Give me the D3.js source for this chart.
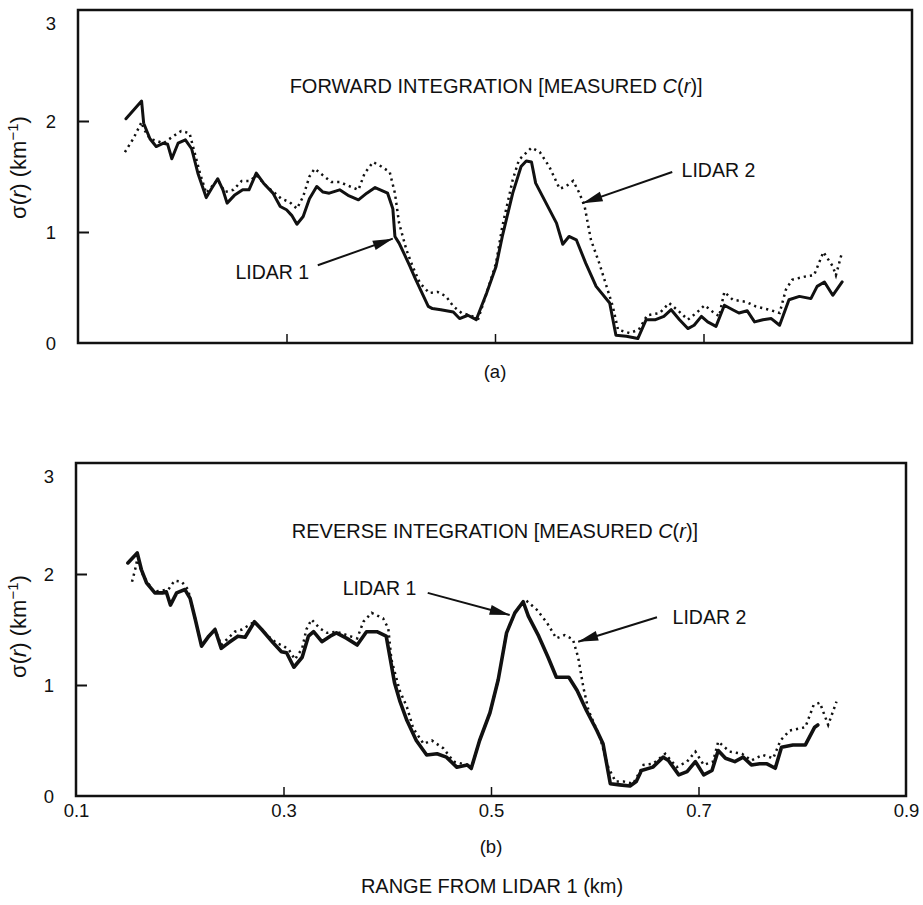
<!DOCTYPE html>
<html>
<head>
<meta charset="utf-8">
<script src="https://cdn.jsdelivr.net/npm/d3@7"></script>
<style>
  html, body { margin: 0; padding: 0; background: #fff; }
  svg { display: block; }
  text { font-family: "Liberation Sans", Arial, Helvetica, sans-serif; fill: #111; }
</style>
</head>
<body>
<svg id="chart" width="923" height="905"></svg>
<script>
// Extinction coefficient sigma(r) [km^-1] versus range r [km], pairs of [r, sigma]

// (a) forward integration
const forwardLidar1 = [[0.146,2.02],[0.161,2.18],[0.163,1.98],[0.169,1.84],[0.175,1.77],[0.182,1.80],[0.186,1.79],[0.190,1.66],[0.196,1.80],[0.203,1.83],[0.209,1.75],[0.215,1.53],[0.223,1.31],[0.228,1.39],[0.234,1.48],[0.239,1.38],[0.243,1.26],[0.250,1.33],[0.258,1.38],[0.264,1.38],[0.271,1.53],[0.278,1.44],[0.287,1.35],[0.294,1.23],[0.300,1.20],[0.305,1.15],[0.310,1.07],[0.316,1.14],[0.322,1.30],[0.329,1.41],[0.335,1.36],[0.341,1.35],[0.351,1.38],[0.359,1.33],[0.369,1.29],[0.377,1.35],[0.385,1.40],[0.397,1.35],[0.402,1.21],[0.404,0.96],[0.408,0.90],[0.413,0.80],[0.418,0.70],[0.424,0.57],[0.436,0.33],[0.440,0.31],[0.448,0.30],[0.460,0.28],[0.466,0.22],[0.474,0.25],[0.482,0.21],[0.492,0.45],[0.501,0.69],[0.507,0.96],[0.517,1.35],[0.525,1.59],[0.530,1.64],[0.535,1.63],[0.539,1.44],[0.549,1.26],[0.559,1.08],[0.565,0.89],[0.571,0.96],[0.578,0.93],[0.587,0.72],[0.597,0.51],[0.610,0.36],[0.616,0.07],[0.626,0.06],[0.637,0.04],[0.645,0.21],[0.654,0.21],[0.662,0.24],[0.669,0.30],[0.677,0.21],[0.685,0.13],[0.691,0.16],[0.698,0.24],[0.704,0.19],[0.712,0.15],[0.720,0.34],[0.728,0.30],[0.734,0.27],[0.742,0.29],[0.749,0.19],[0.757,0.21],[0.765,0.22],[0.773,0.16],[0.782,0.39],[0.792,0.42],[0.803,0.40],[0.809,0.51],[0.816,0.55],[0.824,0.43],[0.833,0.55]];

const forwardLidar2 = [[0.145,1.72],[0.153,1.84],[0.161,1.99],[0.163,1.93],[0.169,1.84],[0.182,1.80],[0.191,1.86],[0.199,1.91],[0.207,1.89],[0.212,1.71],[0.217,1.53],[0.223,1.35],[0.234,1.47],[0.241,1.36],[0.249,1.38],[0.257,1.46],[0.265,1.46],[0.271,1.51],[0.281,1.41],[0.289,1.35],[0.295,1.30],[0.303,1.27],[0.310,1.21],[0.316,1.32],[0.322,1.50],[0.327,1.57],[0.335,1.51],[0.343,1.45],[0.351,1.45],[0.361,1.41],[0.369,1.38],[0.375,1.53],[0.383,1.63],[0.391,1.59],[0.399,1.54],[0.404,1.35],[0.408,1.08],[0.415,0.84],[0.421,0.69],[0.428,0.54],[0.437,0.45],[0.445,0.46],[0.453,0.42],[0.460,0.33],[0.468,0.27],[0.476,0.25],[0.484,0.22],[0.492,0.45],[0.501,0.72],[0.507,1.05],[0.517,1.47],[0.523,1.65],[0.535,1.76],[0.543,1.72],[0.552,1.59],[0.562,1.39],[0.568,1.41],[0.575,1.46],[0.581,1.35],[0.586,1.23],[0.592,0.93],[0.600,0.72],[0.607,0.51],[0.613,0.33],[0.618,0.12],[0.629,0.09],[0.638,0.12],[0.646,0.25],[0.658,0.27],[0.667,0.36],[0.677,0.28],[0.685,0.21],[0.693,0.27],[0.701,0.34],[0.709,0.28],[0.715,0.24],[0.720,0.46],[0.728,0.39],[0.741,0.37],[0.750,0.33],[0.763,0.30],[0.773,0.27],[0.779,0.48],[0.785,0.57],[0.798,0.60],[0.806,0.61],[0.815,0.82],[0.824,0.69],[0.827,0.61],[0.833,0.82]];

// (b) reverse integration
const reverseLidar1 = [[0.150,2.10],[0.159,2.19],[0.163,2.04],[0.168,1.92],[0.176,1.83],[0.184,1.83],[0.187,1.84],[0.191,1.72],[0.197,1.83],[0.205,1.86],[0.210,1.78],[0.215,1.59],[0.221,1.35],[0.228,1.44],[0.234,1.50],[0.240,1.33],[0.247,1.38],[0.256,1.44],[0.263,1.43],[0.272,1.57],[0.279,1.50],[0.290,1.38],[0.298,1.30],[0.303,1.29],[0.310,1.16],[0.318,1.25],[0.324,1.44],[0.329,1.48],[0.337,1.39],[0.345,1.44],[0.351,1.47],[0.361,1.42],[0.371,1.36],[0.380,1.48],[0.390,1.48],[0.399,1.44],[0.403,1.23],[0.407,1.02],[0.412,0.86],[0.419,0.68],[0.428,0.50],[0.438,0.37],[0.448,0.38],[0.457,0.35],[0.467,0.26],[0.477,0.28],[0.481,0.25],[0.489,0.50],[0.499,0.75],[0.507,1.05],[0.515,1.47],[0.523,1.65],[0.531,1.75],[0.536,1.62],[0.546,1.44],[0.555,1.25],[0.563,1.07],[0.575,1.07],[0.583,0.95],[0.592,0.77],[0.602,0.59],[0.608,0.47],[0.615,0.11],[0.624,0.10],[0.634,0.09],[0.640,0.13],[0.645,0.23],[0.656,0.26],[0.666,0.35],[0.671,0.32],[0.681,0.19],[0.689,0.22],[0.697,0.31],[0.705,0.19],[0.713,0.23],[0.719,0.41],[0.726,0.34],[0.735,0.31],[0.743,0.35],[0.751,0.28],[0.759,0.29],[0.766,0.29],[0.774,0.25],[0.780,0.44],[0.791,0.46],[0.803,0.46],[0.812,0.62],[0.815,0.64]];

const reverseLidar2 = [[0.154,1.93],[0.157,2.04],[0.159,2.13],[0.165,1.98],[0.175,1.84],[0.189,1.86],[0.195,1.94],[0.202,1.93],[0.208,1.86],[0.215,1.59],[0.221,1.35],[0.228,1.44],[0.234,1.50],[0.240,1.36],[0.253,1.48],[0.260,1.50],[0.272,1.57],[0.284,1.45],[0.293,1.38],[0.300,1.35],[0.305,1.32],[0.311,1.23],[0.318,1.33],[0.322,1.50],[0.327,1.59],[0.335,1.51],[0.342,1.47],[0.351,1.48],[0.364,1.44],[0.371,1.42],[0.377,1.57],[0.385,1.65],[0.396,1.60],[0.401,1.51],[0.404,1.23],[0.412,0.95],[0.419,0.80],[0.425,0.61],[0.435,0.47],[0.443,0.50],[0.454,0.43],[0.464,0.31],[0.477,0.28],[0.481,0.25],[0.489,0.50],[0.499,0.75],[0.507,1.05],[0.515,1.47],[0.523,1.65],[0.531,1.75],[0.534,1.76],[0.544,1.68],[0.554,1.56],[0.563,1.42],[0.571,1.45],[0.579,1.41],[0.584,1.25],[0.589,0.98],[0.594,0.77],[0.605,0.53],[0.613,0.26],[0.620,0.13],[0.628,0.13],[0.637,0.11],[0.647,0.28],[0.656,0.29],[0.668,0.38],[0.679,0.26],[0.689,0.31],[0.697,0.40],[0.705,0.28],[0.714,0.31],[0.719,0.49],[0.730,0.40],[0.742,0.38],[0.751,0.32],[0.762,0.37],[0.772,0.34],[0.779,0.50],[0.788,0.59],[0.803,0.62],[0.811,0.82],[0.817,0.84],[0.825,0.64],[0.833,0.85]];

// Axis ticks and labels
const rangeTicks = [0.1, 0.3, 0.5, 0.7, 0.9];
const rangeTickLabels = ["0.1", "0.3", "0.5", "0.7", "0.9"];
const sigmaTicks = [0, 1, 2, 3];
const sigmaTickLabels = ["0", "1", "2", "3"];

// Panel texts
const panelTitles = ["FORWARD INTEGRATION", "REVERSE INTEGRATION"];
const panelCaptions = ["(a)", "(b)"];
const seriesNames = ["LIDAR 1", "LIDAR 2"];

const svg = d3.select("#chart");
svg.append("rect").attr("width", 923).attr("height", 905).attr("fill", "#fff");

// Layout of the two stacked panels (pixel frames) and the callouts in data units
const panels = [
  {
    lidar1: forwardLidar1, lidar2: forwardLidar2,
    left: 78, right: 912, top: 10, bottom: 343,
    title: panelTitles[0], titleAt: [0.303, 2.30],
    caption: panelCaptions[0], captionDy: 30,
    showRangeLabels: false, solidWidth: 3,
    label1: { text: [0.251, 0.62], from: [0.330, 0.70], to: [0.402, 0.94] },
    label2: { text: [0.679, 1.54], from: [0.670, 1.54], to: [0.584, 1.26] },
    yLabelDy: -9
  },
  {
    lidar1: reverseLidar1, lidar2: reverseLidar2,
    left: 76, right: 906, top: 463, bottom: 796,
    title: panelTitles[1], titleAt: [0.308, 2.37],
    caption: panelCaptions[1], captionDy: 52,
    showRangeLabels: true, solidWidth: 3.6,
    label1: { text: [0.357, 1.86], from: [0.439, 1.83], to: [0.518, 1.63] },
    label2: { text: [0.675, 1.60], from: [0.660, 1.61], to: [0.584, 1.39] },
    yLabelDy: -3
  }
];

function arrow(g, x1, y1, x2, y2) {
  g.append("line")
    .attr("x1", x1).attr("y1", y1).attr("x2", x2).attr("y2", y2)
    .attr("stroke", "#111").attr("stroke-width", 2);
  const ang = Math.atan2(y2 - y1, x2 - x1);
  const len = 20, half = 5;
  const bx = x2 - len * Math.cos(ang), by = y2 - len * Math.sin(ang);
  const px = -Math.sin(ang) * half, py = Math.cos(ang) * half;
  g.append("path")
    .attr("d", `M${x2},${y2}L${bx + px},${by + py}L${bx - px},${by - py}Z`)
    .attr("fill", "#111");
}

panels.forEach(p => {
  const x = d3.scaleLinear().domain([0.1, 0.9]).range([p.left, p.right]);
  const y = d3.scaleLinear().domain([0, 3]).range([p.bottom, p.top]);
  const g = svg.append("g");

  // plot frame
  g.append("rect")
    .attr("x", p.left).attr("y", p.top)
    .attr("width", p.right - p.left).attr("height", p.bottom - p.top)
    .attr("fill", "none").attr("stroke", "#111").attr("stroke-width", 2.5);

  // range axis: inward ticks, labels only under the lower panel
  const xAxis = d3.axisBottom(x).tickValues(rangeTicks)
    .tickSizeInner(-9).tickSizeOuter(0)
    .tickFormat((d, i) => p.showRangeLabels ? rangeTickLabels[i] : "");
  const xg = g.append("g").attr("transform", `translate(0,${p.bottom})`).call(xAxis);
  xg.select(".domain").remove();
  xg.selectAll(".tick line").attr("stroke", "#111").attr("stroke-width", 1.5)
    .filter(d => d === 0.1 || d === 0.9).remove();
  xg.selectAll(".tick text").attr("font-size", 18.5).attr("fill", "#111")
    .attr("font-family", "Liberation Sans, Arial, sans-serif").attr("dy", "0.9em")
    .attr("y", 4);

  // sigma axis: inward ticks, labels on the left
  const yAxis = d3.axisLeft(y).tickValues(sigmaTicks)
    .tickSizeInner(-11).tickSizeOuter(0)
    .tickPadding(22)
    .tickFormat((d, i) => sigmaTickLabels[i]);
  const yg = g.append("g").attr("transform", `translate(${p.left},0)`).call(yAxis);
  yg.select(".domain").remove();
  yg.selectAll(".tick line").attr("stroke", "#111").attr("stroke-width", 2)
    .filter(d => d === 0 || d === 3).remove();
  yg.selectAll(".tick text").attr("font-size", 18.5).attr("fill", "#111")
    .attr("font-family", "Liberation Sans, Arial, sans-serif")
    .attr("dy", d => d === 3 ? "1.05em" : "0.35em");

  // axis title sigma(r) (km^-1)
  const yl = g.append("text")
    .attr("transform", `translate(26,${(p.top + p.bottom) / 2 + p.yLabelDy}) rotate(-90)`)
    .attr("text-anchor", "middle").attr("font-size", 22);
  yl.append("tspan").text("σ(");
  yl.append("tspan").attr("font-style", "italic").text("r");
  yl.append("tspan").text(") (km");
  yl.append("tspan").attr("font-size", 15).attr("dy", -8).text("−1");
  yl.append("tspan").attr("dy", 8).text(")");

  // curves
  const line = d3.line().x(d => x(d[0])).y(d => y(d[1])).curve(d3.curveLinear);
  g.append("path").datum(p.lidar2).attr("d", line)
    .attr("fill", "none").attr("stroke", "#111").attr("stroke-width", 2.5)
    .attr("stroke-dasharray", "2.2 4");
  g.append("path").datum(p.lidar1).attr("d", line)
    .attr("fill", "none").attr("stroke", "#111").attr("stroke-width", p.solidWidth)
    .attr("stroke-linejoin", "round").attr("stroke-linecap", "round");

  // panel title
  const t = g.append("text")
    .attr("x", x(p.titleAt[0])).attr("y", y(p.titleAt[1]))
    .attr("dominant-baseline", "middle").attr("font-size", 20);
  t.append("tspan").text(p.title + " [MEASURED ");
  t.append("tspan").attr("font-style", "italic").text("C");
  t.append("tspan").text("(");
  t.append("tspan").attr("font-style", "italic").text("r");
  t.append("tspan").text(")]");

  // series callouts
  [[p.label1, seriesNames[0]], [p.label2, seriesNames[1]]].forEach(([c, name]) => {
    g.append("text").attr("x", x(c.text[0])).attr("y", y(c.text[1]))
      .attr("dominant-baseline", "middle").attr("font-size", 19.5).text(name);
    arrow(g, x(c.from[0]), y(c.from[1]), x(c.to[0]), y(c.to[1]));
  });

  // caption
  g.append("text").attr("x", x(0.5)).attr("y", p.bottom + p.captionDy)
    .attr("text-anchor", "middle").attr("dominant-baseline", "middle")
    .attr("font-size", 18.5).text(p.caption);
});

// shared range axis title
svg.append("text").attr("x", 492).attr("y", 888)
  .attr("text-anchor", "middle").attr("dominant-baseline", "middle")
  .attr("font-size", 20).text("RANGE FROM LIDAR 1 (km)");
</script>
</body>
</html>
